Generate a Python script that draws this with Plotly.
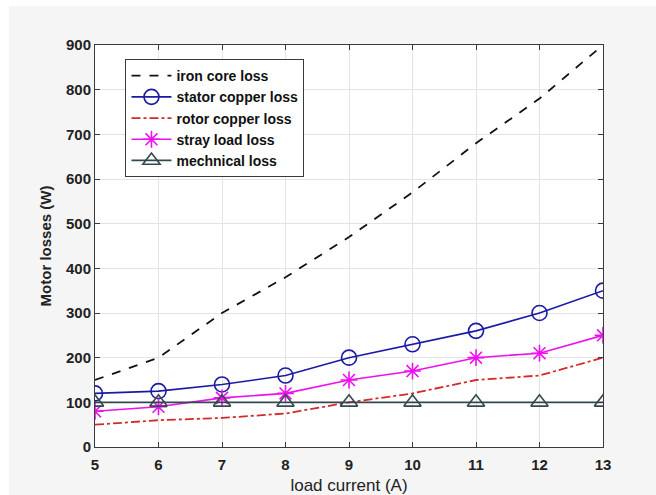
import plotly.graph_objects as go

current = [5, 6, 7, 8, 9, 10, 11, 12, 13]
iron_core = [150, 200, 300, 380, 470, 570, 680, 780, 900]
stator_copper = [120, 125, 140, 160, 200, 230, 260, 300, 350]
rotor_copper = [50, 60, 65, 75, 100, 120, 150, 160, 200]
stray_load = [80, 90, 110, 120, 150, 170, 200, 210, 250]
mechanical = [100, 100, 100, 100, 100, 100, 100, 100, 100]

fig = go.Figure()
fig.add_trace(go.Scatter(x=current, y=iron_core, name="iron core loss", mode="lines",
                         line=dict(color="#111111", width=1.8, dash="dash")))
fig.add_trace(go.Scatter(x=current, y=stator_copper, name="stator copper loss", mode="lines+markers",
                         line=dict(color="#1a1aa6", width=1.6),
                         marker=dict(symbol="circle-open", size=15, color="#1a1aa6", line=dict(width=1.6))))
fig.add_trace(go.Scatter(x=current, y=rotor_copper, name="rotor copper loss", mode="lines",
                         line=dict(color="#d42a2a", width=1.8, dash="dashdot")))
fig.add_trace(go.Scatter(x=current, y=stray_load, name="stray load loss", mode="lines+markers",
                         line=dict(color="#ee10ee", width=1.6),
                         marker=dict(symbol="asterisk-open", size=14, color="#ee10ee", line=dict(width=1.6, color="#ee10ee"))))
fig.add_trace(go.Scatter(x=current, y=mechanical, name="mechnical loss", mode="lines+markers",
                         line=dict(color="#34484f", width=1.8),
                         marker=dict(symbol="triangle-up-open", size=15, color="#34484f", line=dict(width=1.6))))

axis_common = dict(showgrid=True, gridcolor="#e3e3e3", gridwidth=1, showline=True, linecolor="#3a3a3a",
                   linewidth=1, mirror="ticks", ticks="inside", ticklen=5, tickcolor="#3a3a3a",
                   zeroline=False, automargin=False,
                   tickfont=dict(family="Liberation Sans Narrow, Liberation Sans", size=15, color="#222222"))

fig.update_xaxes(range=[5, 13], tickvals=current, ticktext=["<b>%d</b>" % v for v in current],
                 ticklabelstandoff=4,
                 title=dict(text="load current (A)", font=dict(family="Liberation Sans", size=17, color="#222222"),
                            standoff=8), **axis_common)
yt = list(range(0, 901, 100))
fig.update_yaxes(range=[0, 900], tickvals=yt, ticktext=["<b>%d</b>" % v for v in yt],
                 title=dict(text="<b>Motor losses (W)</b>", font=dict(family="Liberation Sans", size=15, color="#222222"),
                            standoff=10), **axis_common)

# figure frame: white outer strip, light-gray canvas, white plot area
W, H, L, R, T, B = 656, 495, 95, 53, 45, 48
pw, ph = W - L - R, H - T - B
fig.add_shape(type="rect", xref="paper", yref="paper", layer="below",
              x0=(9 - L) / pw, x1=(W - L) / pw, y0=-(B) / ph, y1=(H - T - 9) / ph + 0 * 1,
              fillcolor="#f5f5f5", line=dict(width=0))
fig.add_shape(type="rect", xref="paper", yref="paper", layer="below",
              x0=0, x1=1, y0=0, y1=1, fillcolor="#ffffff", line=dict(width=0))

fig.update_layout(
    width=W, height=H,
    margin=dict(l=L, r=R, t=T, b=B),
    paper_bgcolor="#ffffff", plot_bgcolor="#ffffff",
    showlegend=True,
    legend=dict(x=0.06, y=0.965, xanchor="left", yanchor="top", bgcolor="#ffffff",
                bordercolor="#3a3a3a", borderwidth=1,
                font=dict(family="Liberation Sans", size=14, color="#111111"),
                tracegroupgap=0, itemwidth=40),
)
for tr in fig.data:
    tr.name = "<b>%s</b>" % tr.name

fig.write_html("out.html")
